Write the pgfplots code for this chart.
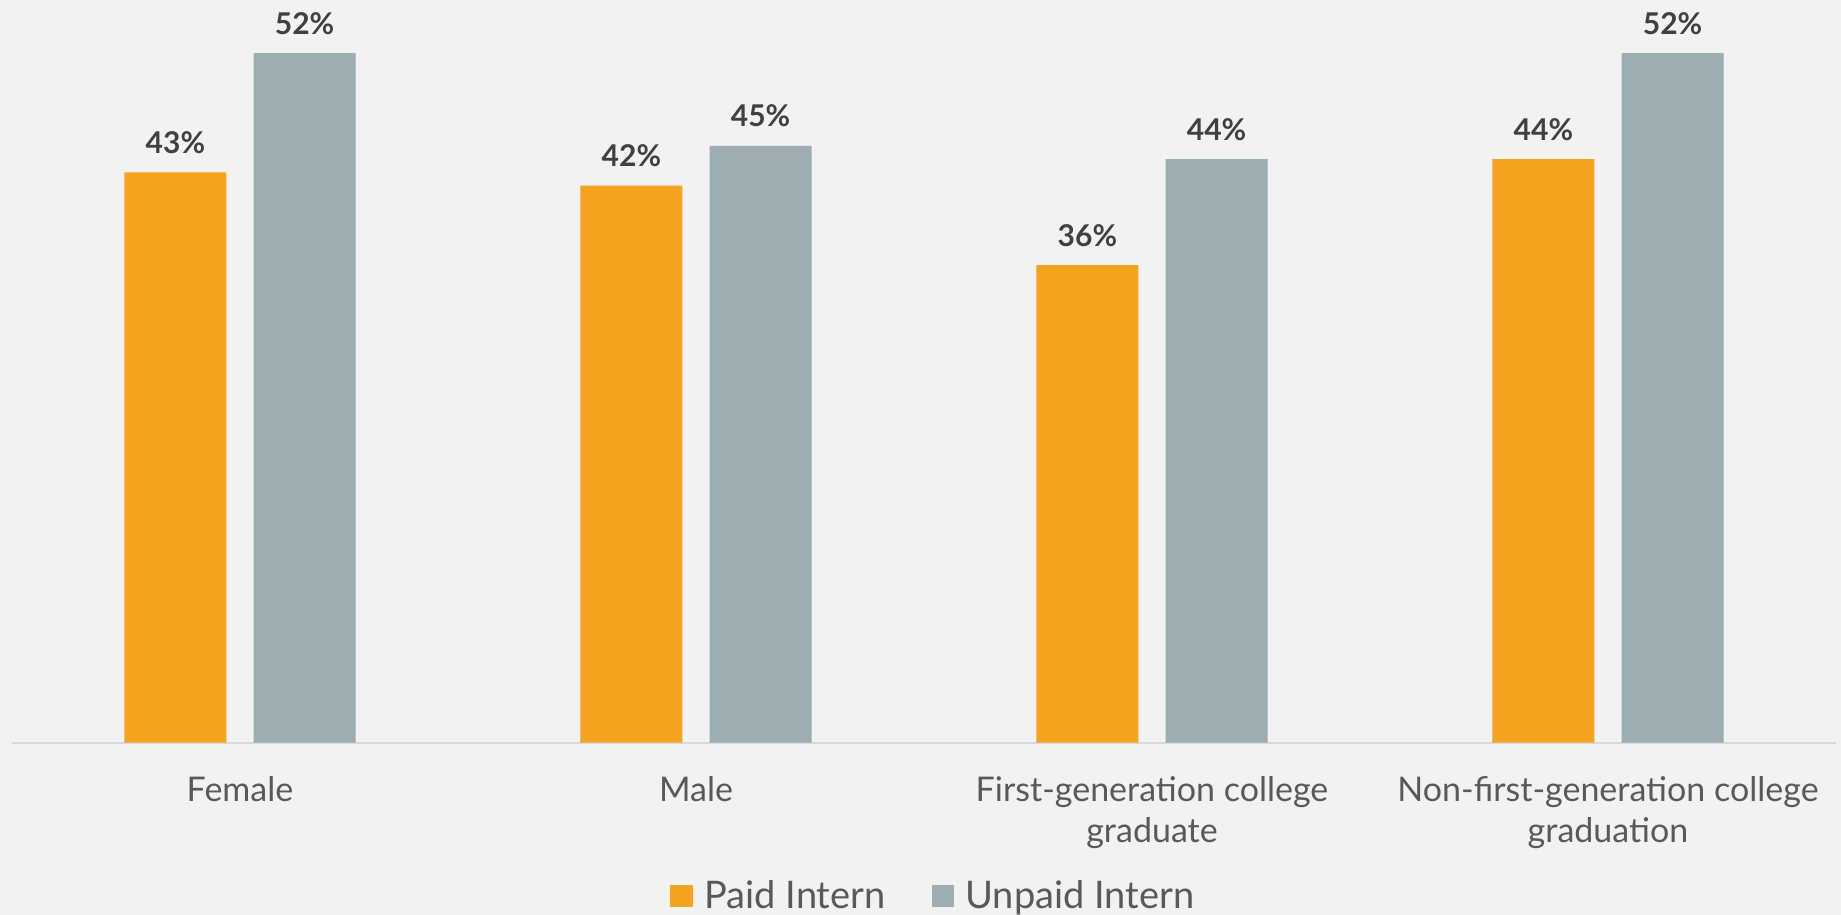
\documentclass[border=0pt]{standalone}
\usepackage{fontspec}
\setmainfont{Lato}
\usepackage{pgfplots}
\pgfplotsset{compat=1.18}
\definecolor{bg}{HTML}{F2F2F2}
\definecolor{paid}{HTML}{F5A31E}
\definecolor{unpaid}{HTML}{9DAEB3}
\definecolor{axisline}{HTML}{D9D9D9}
\definecolor{lbl}{HTML}{404040}
\definecolor{cat}{HTML}{595959}
\begin{document}
\begin{tikzpicture}
\fill[bg] (0,0) rectangle (920.5pt,457.5pt);
\begin{axis}[
  at={(6pt,86.15pt)}, anchor=south west,
  scale only axis, width=912pt, height=371.35pt,
  xmin=-0.5, xmax=3.5, ymin=0, ymax=56,
  axis y line=none,
  axis x line*=bottom,
  x axis line style={draw=axisline, line width=1pt, -},
  xtick={0,1,2,3}, ytick=\empty, major tick length=0pt,
  xticklabels={Female, Male, {First-generation college\\graduate}, {Non-first-generation college\\graduation}},
  xticklabel style={align=center, anchor=north, inner sep=0pt, yshift=-16.5pt, font=\fontsize{17}{20.5}\selectfont, text=cat},
  ybar, bar width=51pt,
  nodes near coords={\pgfmathprintnumber[assume math mode=true]{\pgfplotspointmeta}\%},
  every node near coord/.append style={anchor=base, yshift=9.5pt, inner sep=0pt, font=\fontsize{15}{18}\selectfont\bfseries, text=lbl},
  legend columns=2,
  legend style={draw=none, fill=none, at={(axis cs:0.943,0)}, anchor=west, yshift=-76.6pt, inner sep=0pt,
    font=\fontsize{19}{23}\selectfont, text=cat,
    /tikz/every odd column/.style={column sep=5.65pt},
    /tikz/every even column/.style={column sep=23pt},
    nodes={inner sep=0pt}},
  clip=false,
]
\addplot[fill=paid, draw=none, bar shift=-32.3pt,
  legend image code/.code={\fill[paid] (0pt,-5.65pt) rectangle (11.35pt,5.65pt);}]
  coordinates {(0,43) (1,42) (2,36) (3,44)};
\addplot[fill=unpaid, draw=none, bar shift=32.3pt,
  legend image code/.code={\fill[unpaid] (0pt,-5.65pt) rectangle (11.35pt,5.65pt);}]
  coordinates {(0,52) (1,45) (2,44) (3,52)};
\legend{Paid Intern, Unpaid Intern}
\end{axis}
\pgfresetboundingbox
\path (0,0) rectangle (920.5pt,457.5pt);
\end{tikzpicture}
\end{document}
